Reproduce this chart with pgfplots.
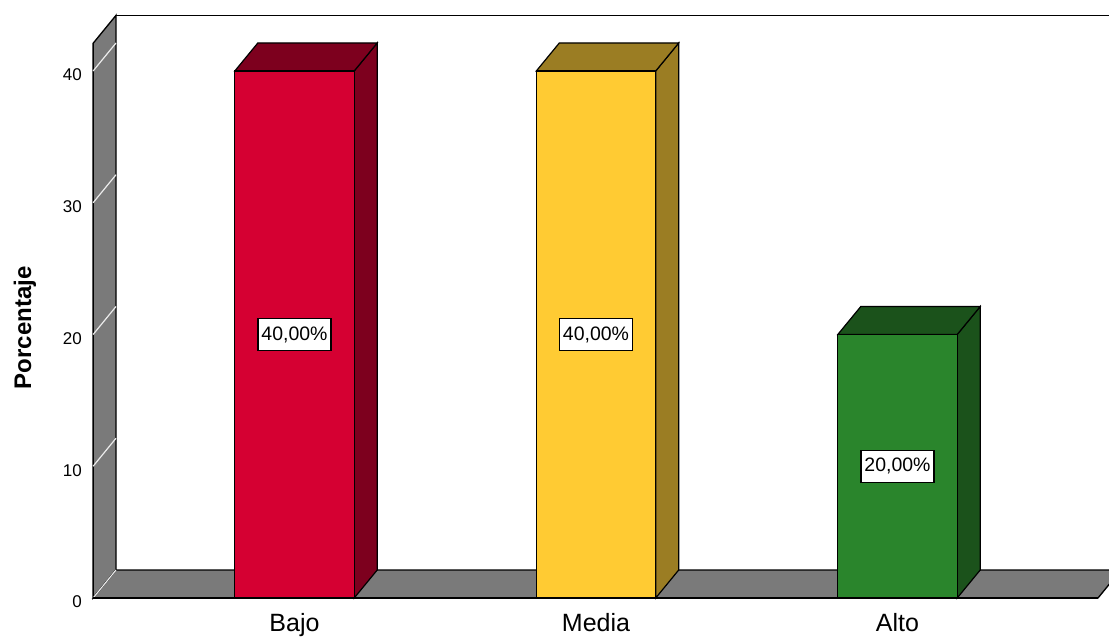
\documentclass[border=0pt]{standalone}
\usepackage{pgfplots}
\pgfplotsset{compat=1.18}
\usepackage{fontspec}
\setmainfont{Liberation Sans}
\definecolor{wallgray}{RGB}{122,122,122}
\definecolor{bajoF}{RGB}{213,0,50}
\definecolor{bajoD}{RGB}{125,0,30}
\definecolor{mediaF}{RGB}{255,203,51}
\definecolor{mediaD}{RGB}{155,125,35}
\definecolor{altoF}{RGB}{42,133,44}
\definecolor{altoD}{RGB}{27,82,27}
\begin{document}
\begin{tikzpicture}
\begin{axis}[
  scale only axis,
  width=831.75pt, height=478.5pt,
  xmin=-0.9768, xmax=2.7015,
  ymin=-3.036, ymax=45.389,
  enlargelimits=false,
  axis lines*=left,
  axis line style={draw=none},
  major tick length=0pt,
  tick style={draw=none},
  /pgf/number format/assume math mode=true,
  ytick={0,10,20,30,40},
  yticklabel style={anchor=east, inner sep=0pt, xshift=61.5pt, yshift=-3pt,
    font=\fontsize{12.75}{15}\selectfont},
  xtick={0,1,2},
  xticklabels={Bajo,Media,Alto},
  xticklabel style={anchor=base, inner sep=0pt, yshift=4.5pt,
    font=\fontsize{18.75}{22}\selectfont},
  ylabel={\bfseries Porcentaje},
  ylabel style={at={(axis description cs:0.0225,0.486)}, anchor=center,
    font=\fontsize{18}{21}\selectfont},
  every node near coord/.append style={anchor=center, fill=white, draw=black,
    line width=0.8pt, inner xsep=2.6pt, inner ysep=0pt, minimum height=24pt,
    font=\fontsize{14.6}{17}\selectfont, text=black},
  nodes near coords style={},
]
% back wall top edge
\addplot[black, line width=1pt] coordinates {(-0.592,44.225) (2.75,44.225)};
% left wall
\addplot[fill=wallgray, draw=black, line width=1pt] coordinates {(-0.668,0) (-0.668,42.1) (-0.592,44.225) (-0.592,2.125)} -- cycle;
% floor
\addplot[fill=wallgray, draw=black, line width=1pt] coordinates {(-0.668,0) (2.665,0) (2.741,2.125) (-0.592,2.125)} -- cycle;
% grid lines on left wall
\addplot[white!85!gray, line width=0.9pt] coordinates {(-0.668,0) (-0.592,2.125)};
\addplot[white!85!gray, line width=0.9pt] coordinates {(-0.668,10) (-0.592,12.125)};
\addplot[white!85!gray, line width=0.9pt] coordinates {(-0.668,20) (-0.592,22.125)};
\addplot[white!85!gray, line width=0.9pt] coordinates {(-0.668,30) (-0.592,32.125)};
\addplot[white!85!gray, line width=0.9pt] coordinates {(-0.668,40) (-0.592,42.125)};
% floor front edge
\addplot[black, line width=1.4pt] coordinates {(-0.668,0) (2.665,0)};
% Bajo
\addplot[fill=bajoD, draw=black, line width=0.9pt] coordinates {(0.198,0) (0.2743,2.125) (0.2743,42.125) (0.198,40)} -- cycle;
\addplot[fill=bajoD, draw=black, line width=0.9pt] coordinates {(-0.198,40) (-0.1217,42.125) (0.2743,42.125) (0.198,40)} -- cycle;
\addplot[ybar, bar shift=0pt, bar width=0.396, fill=bajoF, draw=black, line width=0.9pt,
  nodes near coords={\pgfmathprintnumber[fixed,fixed zerofill,precision=2,use comma]{\pgfplotspointmeta}\%},
  every node near coord/.append style={shift={(axis direction cs:0,-20)}}]
  coordinates {(0,40)};
% Media
\addplot[fill=mediaD, draw=black, line width=0.9pt] coordinates {(1.198,0) (1.2743,2.125) (1.2743,42.125) (1.198,40)} -- cycle;
\addplot[fill=mediaD, draw=black, line width=0.9pt] coordinates {(0.802,40) (0.8783,42.125) (1.2743,42.125) (1.198,40)} -- cycle;
\addplot[ybar, bar shift=0pt, bar width=0.396, fill=mediaF, draw=black, line width=0.9pt,
  nodes near coords={\pgfmathprintnumber[fixed,fixed zerofill,precision=2,use comma]{\pgfplotspointmeta}\%},
  every node near coord/.append style={shift={(axis direction cs:0,-20)}}]
  coordinates {(1,40)};
% Alto
\addplot[fill=altoD, draw=black, line width=0.9pt] coordinates {(2.198,0) (2.2743,2.125) (2.2743,22.125) (2.198,20)} -- cycle;
\addplot[fill=altoD, draw=black, line width=0.9pt] coordinates {(1.802,20) (1.8783,22.125) (2.2743,22.125) (2.198,20)} -- cycle;
\addplot[ybar, bar shift=0pt, bar width=0.396, fill=altoF, draw=black, line width=0.9pt,
  nodes near coords={\pgfmathprintnumber[fixed,fixed zerofill,precision=2,use comma]{\pgfplotspointmeta}\%},
  every node near coord/.append style={shift={(axis direction cs:0,-10)}}]
  coordinates {(2,20)};
\end{axis}
\end{tikzpicture}
\end{document}
